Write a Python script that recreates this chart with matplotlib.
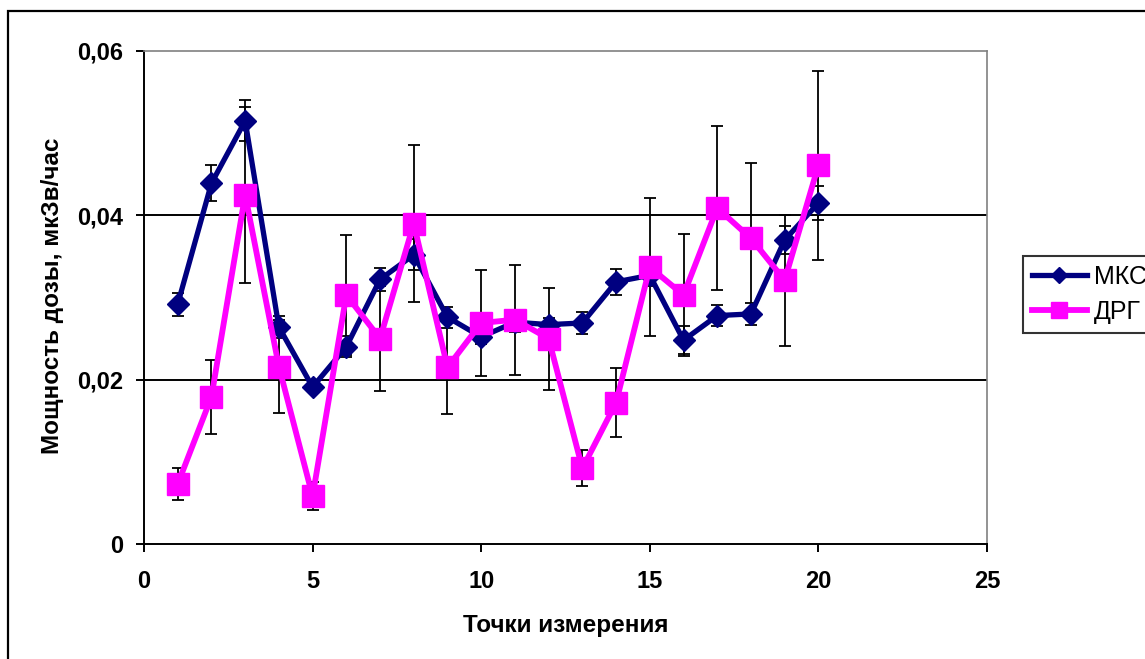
import matplotlib
matplotlib.use("Agg")
import matplotlib.pyplot as plt
from matplotlib.patches import Rectangle
from matplotlib.ticker import FuncFormatter, MultipleLocator

plt.rcParams['font.family'] = ['Liberation Sans', 'DejaVu Sans']

points = list(range(1, 21))
mks = [0.0292, 0.0439, 0.0515, 0.0264, 0.0191, 0.0240, 0.0322, 0.0352, 0.0276, 0.0252,
       0.0270, 0.0267, 0.0269, 0.0319, 0.0327, 0.0248, 0.0278, 0.0280, 0.0370, 0.0415]
mks_err = [0.0014, 0.0022, 0.0025, 0.0013, 0.0005, 0.0013, 0.0014, 0.0019, 0.0013, 0.0009,
           0.0012, 0.0008, 0.0013, 0.0016, 0.0013, 0.0017, 0.0013, 0.0013, 0.0017, 0.0021]
drg = [0.0073, 0.0179, 0.0425, 0.0216, 0.0058, 0.0303, 0.0250, 0.0390, 0.0215, 0.0269,
       0.0273, 0.0250, 0.0092, 0.0172, 0.0337, 0.0303, 0.0409, 0.0372, 0.0321, 0.0461]
drg_err = [0.0019, 0.0045, 0.0107, 0.0057, 0.0017, 0.0073, 0.0064, 0.0096, 0.0057, 0.0065,
           0.0067, 0.0062, 0.0022, 0.0042, 0.0084, 0.0074, 0.0100, 0.0092, 0.0080, 0.0115]
series_names = ["МКС", "ДРГ"]
xlabel = "Точки измерения"
ylabel = "Мощность дозы, мкЗв/час"

W, H = 1145, 659
fig = plt.figure(figsize=(W / 100, H / 100), dpi=100)
ax = fig.add_axes([144 / W, 1 - 544 / H, (987 - 144) / W, (544 - 51) / H])

# figure border
fig.patches.append(Rectangle((8 / W, -0.2), 1.5, 1.2 - 11 / H, transform=fig.transFigure,
                             fill=False, edgecolor='black', linewidth=1.6, zorder=0))

ax.errorbar(points, mks, yerr=mks_err, fmt='none', ecolor='black', elinewidth=1.3,
            capsize=4.5, capthick=1.3, zorder=2)
ax.errorbar(points, drg, yerr=drg_err, fmt='none', ecolor='black', elinewidth=1.3,
            capsize=4.5, capthick=1.3, zorder=2)
ax.plot(points, mks, color='#000080', linewidth=3.8, marker='D', markersize=11.5,
        label=series_names[0], zorder=3)
ax.plot(points, drg, color='#FF00FF', linewidth=4.2, marker='s', markersize=15.5,
        label=series_names[1], zorder=4)

ax.set_xlim(0, 25)
ax.set_ylim(0, 0.06)
ax.xaxis.set_major_locator(MultipleLocator(5))
ax.yaxis.set_major_locator(MultipleLocator(0.02))
ax.yaxis.set_major_formatter(FuncFormatter(lambda v, p: "0" if abs(v) < 1e-12 else f"{v:.2f}".replace('.', ',')))

for y in [0.02, 0.04]:
    ax.axhline(y, color='black', linewidth=1.4, zorder=1)

ax.spines['left'].set_color('black')
ax.spines['bottom'].set_color('black')
ax.spines['left'].set_linewidth(1.4)
ax.spines['bottom'].set_linewidth(1.4)
ax.spines['top'].set_color('#808080')
ax.spines['right'].set_color('#808080')
ax.spines['top'].set_linewidth(1.2)
ax.spines['right'].set_linewidth(1.2)

ax.tick_params(axis='both', direction='out', length=6, width=1.4, labelsize=17)
ax.tick_params(axis='y', pad=9)
ax.tick_params(axis='x', pad=13)
for lab in ax.get_xticklabels() + ax.get_yticklabels():
    lab.set_fontweight('bold')

ax.set_xlabel(xlabel, fontsize=17.5, fontweight='bold', labelpad=15)
fig.text(52 / W, 1 - 296 / H, ylabel, rotation=90, fontsize=17.5, fontweight='bold',
         ha='center', va='center')

leg = fig.legend(loc='upper left', bbox_to_anchor=(1023 / W, 1 - 256 / H),
                 bbox_transform=fig.transFigure, fontsize=18, frameon=True,
                 fancybox=False, edgecolor='black', borderaxespad=0, handlelength=2.2,
                 borderpad=0.35, labelspacing=0.45, handletextpad=0.3, markerscale=0.7)
leg.get_frame().set_linewidth(1.5)

fig.savefig("out.png", dpi=100)
